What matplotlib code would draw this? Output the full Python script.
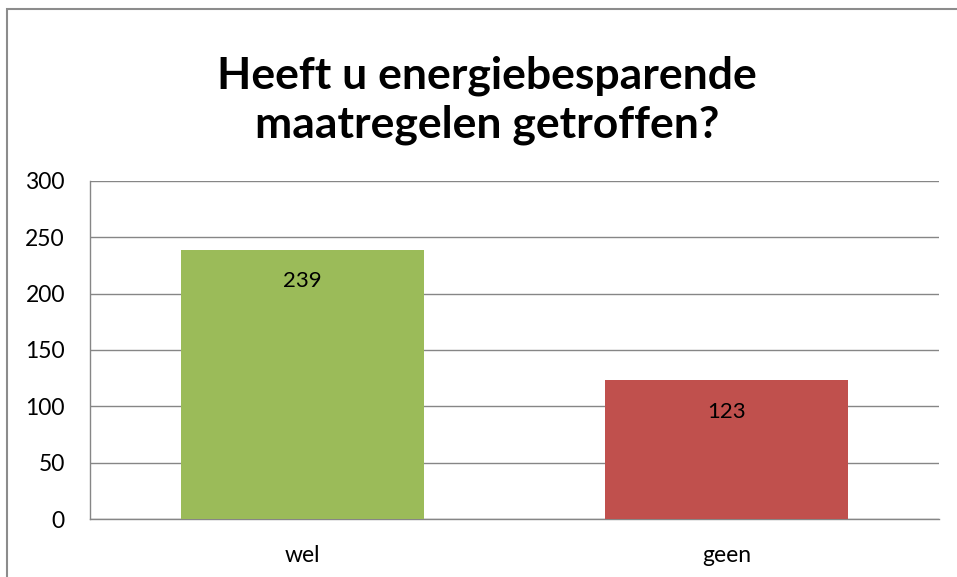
import matplotlib.pyplot as plt
from matplotlib.patches import Rectangle

categories = ["wel", "geen"]
values = [239, 123]
bar_colors = ["#9BBB59", "#C0504D"]
y_ticks = [0, 50, 100, 150, 200, 250, 300]

plt.rcParams["font.family"] = ["Lato", "DejaVu Sans"]

fig = plt.figure(figsize=(9.57, 5.77), dpi=100)

# outer chart border (cropped on right and bottom in the original)
fig.patches.append(Rectangle((7 / 957, -0.1), 1.2, (577 - 9) / 577 + 0.1,
                             transform=fig.transFigure, fill=False,
                             edgecolor="#8c8c8c", linewidth=1.5))

ax = fig.add_axes([90 / 957, 58 / 577, 849 / 957, 338 / 577])
x = range(len(categories))
bars = ax.bar(x, values, width=0.572, color=bar_colors, zorder=3)
for b, v in zip(bars, values):
    ax.text(b.get_x() + b.get_width() / 2, v - 28, str(v), ha="center", va="center",
            fontsize=16, color="black", zorder=4)

ax.set_xlim(-0.5, 1.5)
ax.set_ylim(0, 300)
ax.set_yticks(y_ticks)
ax.set_xticks(list(x))
ax.set_xticklabels(categories)
ax.yaxis.grid(True, color="#868686", linewidth=1.0, zorder=0)
ax.tick_params(axis="both", labelsize=16.5, length=0)
ax.tick_params(axis="y", pad=18)
ax.tick_params(axis="x", pad=19)
for s in ["top", "right"]:
    ax.spines[s].set_visible(False)
for s in ["left", "bottom"]:
    ax.spines[s].set_color("#868686")
    ax.spines[s].set_linewidth(1.0)

fig.text(487 / 957, 1 - 100 / 577, "Heeft u energiebesparende\nmaatregelen getroffen?",
         ha="center", va="center", fontsize=32, fontweight="bold", linespacing=1.25)

fig.savefig("out.png", dpi=100)
